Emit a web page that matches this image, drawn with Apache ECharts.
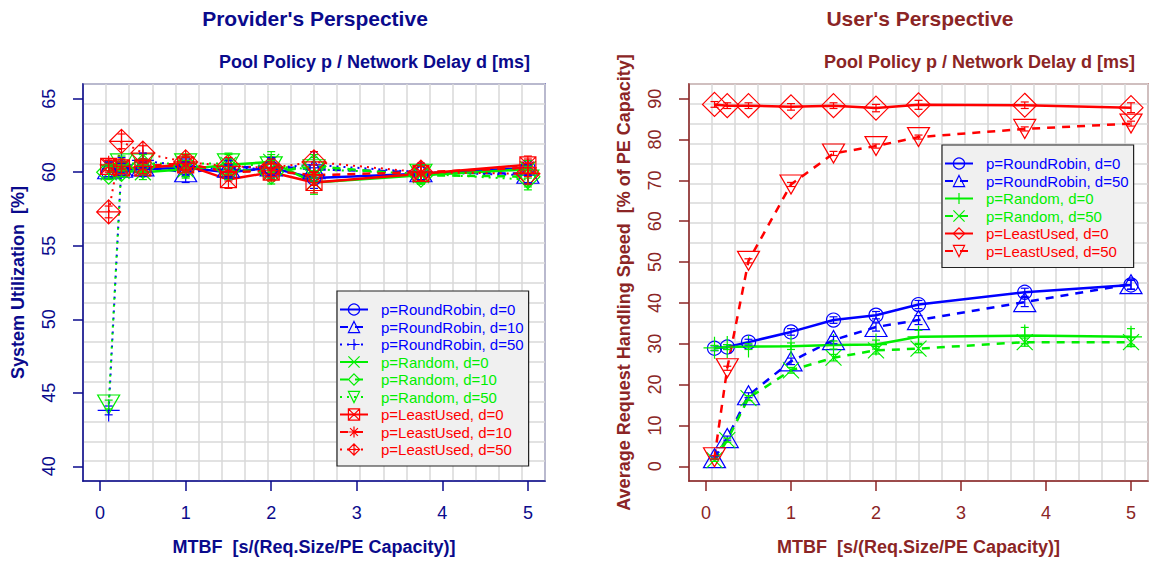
<!DOCTYPE html>
<html>
<head>
<meta charset="utf-8">
<script src="https://cdn.jsdelivr.net/npm/echarts@6/dist/echarts.min.js"></script>
<style>html,body{margin:0;padding:0;background:#fff}#c{width:1150px;height:563px}</style>
</head>
<body>
<div id="c"></div>
<script>
// ---------------- DATA ----------------
const mtbf = [0.1, 0.25, 0.5, 1, 1.5, 2, 2.5, 3.75, 5];
const xTicks = [0, 1, 2, 3, 4, 5];
const leftYTicks = [40, 45, 50, 55, 60, 65];
const rightYTicks = [0, 10, 20, 30, 40, 50, 60, 70, 80, 90];

// Provider's perspective: system utilization [%]
const utilRR0   = [60.0, 60.2, 60.2, 60.3, 60.0, 60.3, 59.6, 59.9, 60.3];
const utilRR10  = [60.2, 60.3, 60.4, 60.0, 60.3, 60.4, 60.2, 60.0, 59.9];
const utilRR50  = [43.8, 60.5, 60.8, 60.4, 60.2, 60.3, 60.5, 60.0, 59.8];
const utilRnd0  = [60.0, 60.1, 60.0, 60.2, 60.5, 60.7, 59.3, 59.8, 60.2];
const utilRnd10 = [60.0, 60.2, 60.4, 60.4, 60.2, 60.0, 60.4, 59.8, 59.7];
const utilRnd50 = [44.2, 60.6, 60.6, 60.6, 60.6, 60.4, 60.2, 59.9, 59.5];
const utilLU0   = [60.4, 60.3, 60.3, 60.5, 59.5, 60.0, 59.3, 59.9, 60.5];
const utilLU10  = [60.5, 60.4, 60.4, 60.6, 60.0, 60.1, 59.8, 60.0, 60.3];
const utilLU50  = [57.3, 62.1, 61.3, 60.7, 60.4, 60.3, 60.7, 60.0, 59.9];
// confidence half-widths (provider)
const utilErrRR0   = [0.4, 0.4, 0.5, 0.6, 0.5, 0.6, 0.7, 0.5, 0.5];
const utilErrRR10  = [0.5, 0.4, 0.5, 0.7, 0.6, 0.6, 0.8, 0.5, 0.6];
const utilErrRR50  = [0.3, 0.5, 0.5, 0.6, 0.6, 0.7, 0.9, 0.6, 0.6];
const utilErrRnd0  = [0.4, 0.4, 0.5, 0.6, 0.7, 0.7, 0.8, 0.6, 0.6];
const utilErrRnd10 = [0.5, 0.5, 0.5, 0.7, 0.7, 0.8, 0.8, 0.6, 0.7];
const utilErrRnd50 = [0.3, 0.5, 0.6, 0.6, 0.7, 0.8, 0.8, 0.6, 0.7];
const utilErrLU0   = [0.4, 0.4, 0.4, 0.5, 0.6, 0.6, 0.7, 0.5, 0.6];
const utilErrLU10  = [0.4, 0.5, 0.5, 0.5, 0.6, 0.6, 0.7, 0.6, 0.6];
const utilErrLU50  = [0.4, 0.5, 0.5, 0.5, 0.6, 0.6, 0.7, 0.6, 0.7];

// User's perspective: average request handling speed [% of PE capacity]
const speedRR0   = [28.9, 29.2, 30.4, 32.9, 35.8, 37.0, 39.6, 42.6, 44.4];
const speedRR50  = [2.0, 6.9, 17.4, 25.7, 30.9, 34.1, 35.8, 40.2, 44.6];
const speedRnd0  = [29.0, 29.2, 29.3, 29.4, 29.7, 29.8, 31.7, 32.0, 31.7];
const speedRnd50 = [1.5, 6.4, 16.7, 23.5, 26.6, 28.4, 28.8, 30.4, 30.4];
const speedLU0   = [88.6, 88.3, 88.3, 88.0, 88.3, 87.7, 88.5, 88.4, 87.8];
const speedLU50  = [2.2, 24.0, 50.3, 69.0, 76.6, 78.4, 80.6, 82.6, 83.9];
// confidence half-widths (user)
const speedErrRR0   = [0.6, 0.6, 0.7, 0.8, 0.8, 0.9, 1.0, 1.0, 1.1];
const speedErrRR50  = [0.3, 0.5, 0.6, 0.8, 0.9, 1.0, 1.1, 1.1, 1.2];
const speedErrRnd0  = [0.6, 0.6, 0.7, 0.8, 1.0, 1.1, 1.6, 2.0, 2.0];
const speedErrRnd50 = [0.3, 0.5, 0.6, 0.7, 0.8, 0.9, 1.0, 1.0, 1.1];
const speedErrLU0   = [0.7, 0.7, 0.7, 0.8, 0.7, 0.9, 1.1, 0.8, 1.2];
const speedErrLU50  = [0.4, 0.5, 0.5, 0.5, 0.5, 0.5, 0.5, 0.5, 0.6];

const leftNames = ['p=RoundRobin, d=0','p=RoundRobin, d=10','p=RoundRobin, d=50',
  'p=Random, d=0','p=Random, d=10','p=Random, d=50',
  'p=LeastUsed, d=0','p=LeastUsed, d=10','p=LeastUsed, d=50'];
const rightNames = ['p=RoundRobin, d=0','p=RoundRobin, d=50','p=Random, d=0',
  'p=Random, d=50','p=LeastUsed, d=0','p=LeastUsed, d=50'];

// ---------------- STYLE ----------------
const BLUE = '#0000ff', GREEN = '#00ee00', RED = '#ff0000';
const NAVY = '#0a0a8c', BROWN = '#8b2525';
const FONT = 'Liberation Sans, Arial, sans-serif';
const SYM = {
  circle: 'circle',
  tri: 'triangle',
  plus: 'path://M5,0L5,10M0,5L10,5',
  cross: 'path://M0,0L10,10M10,0L0,10',
  diamond: 'diamond',
  dtri: 'path://M0,0L10,0L5,8.66Z',
  sqx: 'path://M0,0L10,0L10,10L0,10ZM0,0L10,10M10,0L0,10',
  star: 'path://M5,0L5,10M0,5L10,5M1.5,1.5L8.5,8.5M8.5,1.5L1.5,8.5',
  dplus: 'path://M5,0L10,5L5,10L0,5ZM5,0L5,10M0,5L10,5'
};
const SZ = {circle:14, tri:[22,19], plus:22, cross:16, diamond:24, dtri:[22,19], sqx:16, star:18, dplus:24};
const LT = {solid:'solid', dashed:[8,7], dotted:[2,5]};
const LW = {solid:2.5, dashed:2.5, dotted:2};
const CLEAR = 'rgba(0,0,0,0)';

function mk(name, prefix, data, color, sym, lt, xi, yi) {
  return {
    name: prefix + name, type: 'line', xAxisIndex: xi, yAxisIndex: yi,
    data: mtbf.map((x, i) => [x, data[i]]),
    color: color,
    symbol: SYM[sym], symbolSize: SZ[sym], showSymbol: true,
    itemStyle: {color: CLEAR, borderColor: color, borderWidth: 1.2},
    lineStyle: {color: color, width: LW[lt], type: LT[lt]},
    emphasis: {disabled: true}, z: 3
  };
}
function errBars(data, err, color, xi, yi) {
  return {
    type: 'custom', xAxisIndex: xi, yAxisIndex: yi, silent: true, z: 4,
    data: mtbf.map((x, i) => [x, data[i] - err[i], data[i] + err[i]]),
    renderItem: function (params, api) {
      const lo = api.coord([api.value(0), api.value(1)]);
      const hi = api.coord([api.value(0), api.value(2)]);
      const w = 4;
      const st = {stroke: color, lineWidth: 1.2};
      return {type: 'group', children: [
        {type: 'line', shape: {x1: lo[0], y1: lo[1], x2: hi[0], y2: hi[1]}, style: st},
        {type: 'line', shape: {x1: lo[0] - w, y1: lo[1], x2: lo[0] + w, y2: lo[1]}, style: st},
        {type: 'line', shape: {x1: hi[0] - w, y1: hi[1], x2: hi[0] + w, y2: hi[1]}, style: st}
      ]};
    }
  };
}

const leftSpec = [
  [utilRR0, utilErrRR0, BLUE, 'circle', 'solid'], [utilRR10, utilErrRR10, BLUE, 'tri', 'dashed'], [utilRR50, utilErrRR50, BLUE, 'plus', 'dotted'],
  [utilRnd0, utilErrRnd0, GREEN, 'cross', 'solid'], [utilRnd10, utilErrRnd10, GREEN, 'diamond', 'dashed'], [utilRnd50, utilErrRnd50, GREEN, 'dtri', 'dotted'],
  [utilLU0, utilErrLU0, RED, 'sqx', 'solid'], [utilLU10, utilErrLU10, RED, 'star', 'dashed'], [utilLU50, utilErrLU50, RED, 'dplus', 'dotted']
];
const rightSpec = [
  [speedRR0, speedErrRR0, BLUE, 'circle', 'solid'], [speedRR50, speedErrRR50, BLUE, 'tri', 'dashed'],
  [speedRnd0, speedErrRnd0, GREEN, 'plus', 'solid'], [speedRnd50, speedErrRnd50, GREEN, 'cross', 'dashed'],
  [speedLU0, speedErrLU0, RED, 'diamond', 'solid'], [speedLU50, speedErrLU50, RED, 'dtri', 'dashed']
];

const series = [];
leftSpec.forEach((s, i) => {
  series.push(mk(leftNames[i], 'L:', s[0], s[2], s[3], s[4], 0, 0));
  series.push(errBars(s[0], s[1], s[2], 0, 0));
});
rightSpec.forEach((s, i) => {
  series.push(mk(rightNames[i], 'R:', s[0], s[2], s[3], s[4], 1, 1));
  series.push(errBars(s[0], s[1], s[2], 1, 1));
});

function mainX(gi, col) {
  return {
    gridIndex: gi, type: 'value', min: -0.2, max: 5.2,
    name: 'MTBF  [s/(Req.Size/PE Capacity)]', nameLocation: 'middle', nameGap: 57,
    nameTextStyle: {fontFamily: FONT, fontWeight: 'bold', fontSize: 18, color: col},
    axisLine: {show: true, onZero: false, lineStyle: {color: col, width: 1.5}},
    axisTick: {show: true, length: 10, customValues: xTicks, lineStyle: {color: col, width: 1.5}},
    axisLabel: {customValues: xTicks, margin: 23, fontSize: 18, fontFamily: FONT, color: col},
    splitLine: {show: false}
  };
}
function mainY(gi, col, mn, mx, ticks, name) {
  return {
    gridIndex: gi, type: 'value', min: mn, max: mx,
    name: name, nameLocation: 'middle', nameGap: 56,
    nameTextStyle: {fontFamily: FONT, fontWeight: 'bold', fontSize: 18, color: col},
    axisLine: {show: true, onZero: false, lineStyle: {color: col, width: 1.5}},
    axisTick: {show: true, length: 10, customValues: ticks, lineStyle: {color: col, width: 1.5}},
    axisLabel: {customValues: ticks, rotate: 90, margin: 25, fontSize: 18, fontFamily: FONT, color: col},
    splitLine: {show: false}
  };
}
function gridAxis(gi) {
  return {
    gridIndex: gi, type: 'value', min: 0, max: 20, interval: 1,
    axisLine: {show: false}, axisTick: {show: false}, axisLabel: {show: false},
    splitLine: {show: true, lineStyle: {color: '#d9d9d9', width: 1.5}}, z: 0
  };
}
function legend(names, prefix, colors, left, top) {
  return {
    orient: 'vertical', left: left, top: top,
    data: names.map((n, i) => ({
      name: prefix + n,
      textStyle: {color: colors[i]},
      itemStyle: {color: CLEAR, borderColor: colors[i], borderWidth: 1.2}
    })),
    formatter: n => n.slice(2),
    itemWidth: 28, itemHeight: 14, itemGap: 2.5,
    padding: [11, 5, 9, 2],
    backgroundColor: '#f0f0f0', borderColor: '#222', borderWidth: 1.2, borderRadius: 0,
    textStyle: {fontFamily: FONT, fontSize: 15, padding: [0, 0, 0, 8], lineHeight: 14},
    selectedMode: false
  };
}

const option = {
  animation: false,
  backgroundColor: '#ffffff',
  textStyle: {fontFamily: FONT},
  graphic: [
    {type: 'text', x: 315, y: 18, style: {text: "Provider's Perspective", font: 'bold 21px ' + FONT, fill: NAVY, textAlign: 'center', textVerticalAlign: 'middle'}},
    {type: 'text', x: 530, y: 62, style: {text: 'Pool Policy p / Network Delay d [ms]', font: 'bold 18px ' + FONT, fill: NAVY, textAlign: 'right', textVerticalAlign: 'middle'}},
    {type: 'text', x: 920, y: 18, style: {text: "User's Perspective", font: 'bold 21px ' + FONT, fill: BROWN, textAlign: 'center', textVerticalAlign: 'middle'}},
    {type: 'text', x: 1135, y: 62, style: {text: 'Pool Policy p / Network Delay d [ms]', font: 'bold 18px ' + FONT, fill: BROWN, textAlign: 'right', textVerticalAlign: 'middle'}}
  ],
  grid: [
    {left: 83, top: 84, width: 462, height: 397, show: true, borderColor: '#2a2a98', borderWidth: 1.5, backgroundColor: CLEAR},
    {left: 689, top: 84, width: 459, height: 397, show: true, borderColor: '#a04545', borderWidth: 1.5, backgroundColor: CLEAR}
  ],
  xAxis: [mainX(0, NAVY), mainX(1, BROWN), gridAxis(0), gridAxis(1)],
  yAxis: [
    mainY(0, NAVY, 39, 66, leftYTicks, 'System Utilization  [%]'),
    mainY(1, BROWN, -3.6, 93.6, rightYTicks, 'Average Request Handling Speed  [% of PE Capacity]'),
    gridAxis(0), gridAxis(1)
  ],
  legend: [
    legend(leftNames, 'L:', leftSpec.map(s => s[2]), 337, 291),
    legend(rightNames, 'R:', rightSpec.map(s => s[2]), 942, 145)
  ],
  series: series
};

const chart = echarts.init(document.getElementById('c'), null, {renderer: 'svg'});
chart.setOption(option);
</script>
</body>
</html>
